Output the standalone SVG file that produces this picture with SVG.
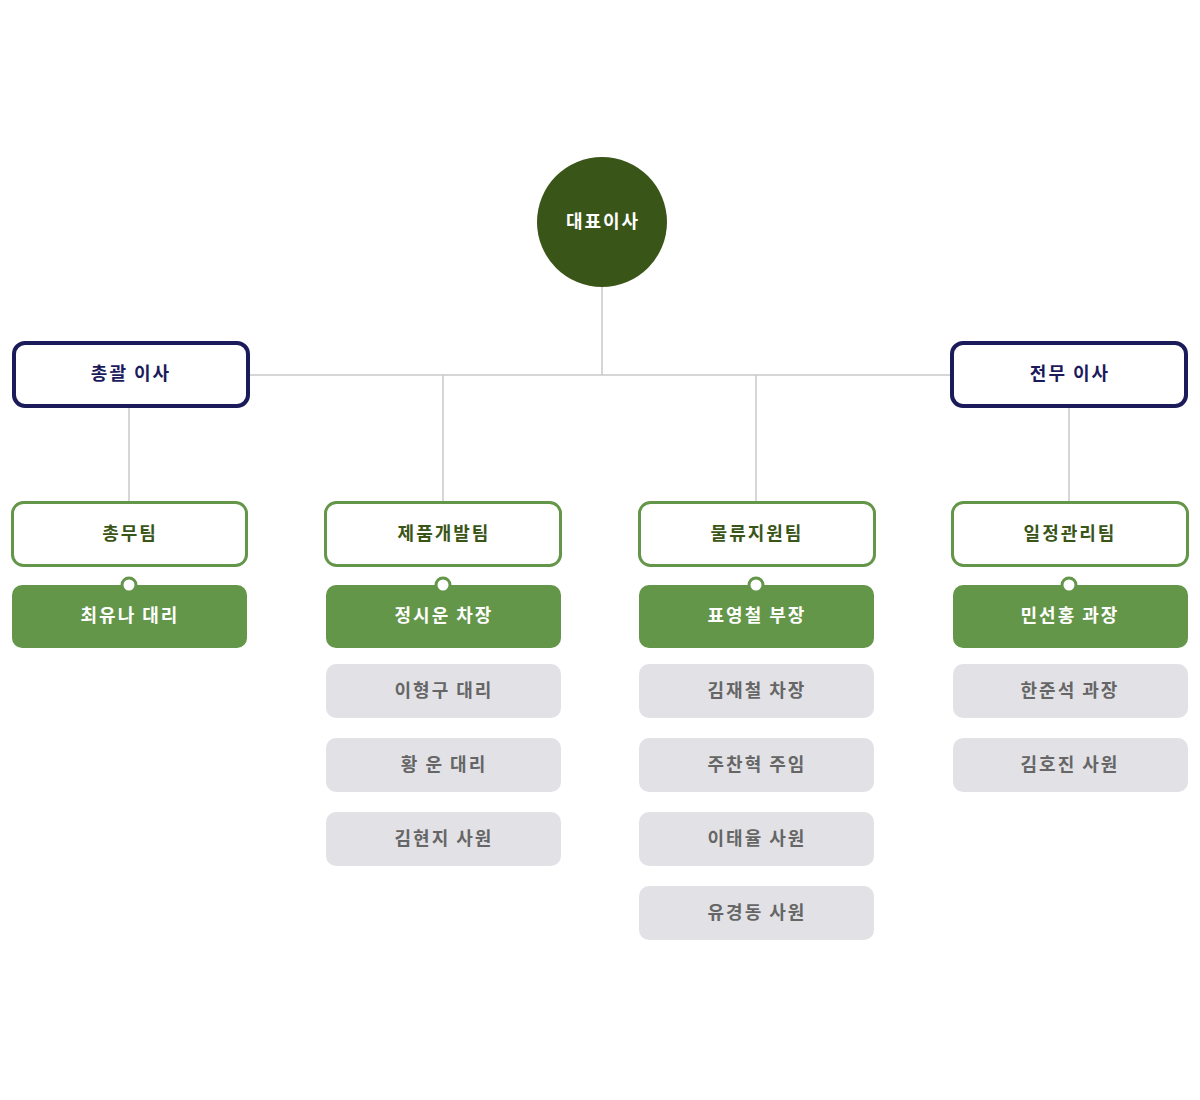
<svg xmlns="http://www.w3.org/2000/svg" width="1200" height="1100" viewBox="0 0 1200 1100">
<style>
text{font-family:"Noto Sans CJK KR","Noto Sans",sans-serif;font-weight:bold;font-size:18px;text-anchor:middle;dominant-baseline:central;letter-spacing:2px}
.line{stroke:#c8c8c8;stroke-width:1.5;fill:none}
.exec{fill:#fff;stroke:#1b1a5a;stroke-width:4}
.exec-t{fill:#1b1a5a}
.team{fill:#fff;stroke:#64964a;stroke-width:3}
.team-t{fill:#3a5518}
.lead{fill:#64964a}
.lead-t{fill:#fff}
.dot{fill:#fff;stroke:#64964a;stroke-width:3}
.mem{fill:#e2e2e6}
.mem-t{fill:#666}
</style>
<rect width="1200" height="1100" fill="#fff"/>
<g id="connectors">
<line class="line" x1="602" y1="287" x2="602" y2="375"/>
<line class="line" x1="250" y1="375" x2="950" y2="375"/>
<line class="line" x1="443" y1="375" x2="443" y2="502"/>
<line class="line" x1="756" y1="375" x2="756" y2="502"/>
<line class="line" x1="129" y1="408" x2="129" y2="502"/>
<line class="line" x1="1069" y1="408" x2="1069" y2="502"/>
</g>
<g id="ceo">
<circle cx="602" cy="222" r="65" fill="#3a5518"/>
<text x="603" y="220" fill="#fff">대표이사</text>
</g>
<g id="exec1">
<rect class="exec" x="14" y="343" width="234" height="63" rx="11"/>
<text class="exec-t" x="131" y="372">총괄 이사</text>
</g>
<g id="exec2">
<rect class="exec" x="952" y="343" width="234" height="63" rx="11"/>
<text class="exec-t" x="1070" y="372">전무 이사</text>
</g>
<g id="team1">
<rect class="team" x="12.5" y="502.5" width="234" height="63" rx="11"/>
<text class="team-t" x="130" y="532">총무팀</text>
</g>
<g id="team2">
<rect class="team" x="325.5" y="502.5" width="235" height="63" rx="11"/>
<text class="team-t" x="444" y="532">제품개발팀</text>
</g>
<g id="team3">
<rect class="team" x="639.5" y="502.5" width="235" height="63" rx="11"/>
<text class="team-t" x="757" y="532">물류지원팀</text>
</g>
<g id="team4">
<rect class="team" x="952.5" y="502.5" width="235" height="63" rx="11"/>
<text class="team-t" x="1070" y="532">일정관리팀</text>
</g>
<g id="lead1">
<rect class="lead" x="12" y="585" width="235" height="63" rx="10"/>
<circle class="dot" cx="129" cy="585" r="7"/>
<text class="lead-t" x="130" y="614">최유나 대리</text>
</g>
<g id="lead2">
<rect class="lead" x="326" y="585" width="235" height="63" rx="10"/>
<circle class="dot" cx="443" cy="585" r="7"/>
<text class="lead-t" x="444" y="614">정시운 차장</text>
</g>
<g id="lead3">
<rect class="lead" x="639" y="585" width="235" height="63" rx="10"/>
<circle class="dot" cx="756" cy="585" r="7"/>
<text class="lead-t" x="757" y="614">표영철 부장</text>
</g>
<g id="lead4">
<rect class="lead" x="953" y="585" width="235" height="63" rx="10"/>
<circle class="dot" cx="1069" cy="585" r="7"/>
<text class="lead-t" x="1070" y="614">민선홍 과장</text>
</g>
<g id="m2a"><rect class="mem" x="326" y="664" width="235" height="54" rx="10"/><text class="mem-t" x="444" y="689">이형구 대리</text></g>
<g id="m2b"><rect class="mem" x="326" y="738" width="235" height="54" rx="10"/><text class="mem-t" x="444" y="763">황 운 대리</text></g>
<g id="m2c"><rect class="mem" x="326" y="812" width="235" height="54" rx="10"/><text class="mem-t" x="444" y="837">김현지 사원</text></g>
<g id="m3a"><rect class="mem" x="639" y="664" width="235" height="54" rx="10"/><text class="mem-t" x="757" y="689">김재철 차장</text></g>
<g id="m3b"><rect class="mem" x="639" y="738" width="235" height="54" rx="10"/><text class="mem-t" x="757" y="763">주찬혁 주임</text></g>
<g id="m3c"><rect class="mem" x="639" y="812" width="235" height="54" rx="10"/><text class="mem-t" x="757" y="837">이태율 사원</text></g>
<g id="m3d"><rect class="mem" x="639" y="886" width="235" height="54" rx="10"/><text class="mem-t" x="757" y="911">유경동 사원</text></g>
<g id="m4a"><rect class="mem" x="953" y="664" width="235" height="54" rx="10"/><text class="mem-t" x="1070" y="689">한준석 과장</text></g>
<g id="m4b"><rect class="mem" x="953" y="738" width="235" height="54" rx="10"/><text class="mem-t" x="1070" y="763">김호진 사원</text></g>
</svg>
